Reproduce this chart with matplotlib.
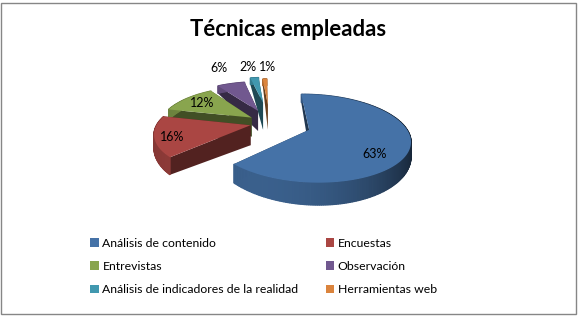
import numpy as np
import matplotlib
matplotlib.use("Agg")
import matplotlib.pyplot as plt
from matplotlib.patches import Polygon, Rectangle
from matplotlib.colors import to_rgb

TITLE = "Técnicas empleadas"
CATEGORIES = ["Análisis de contenido", "Encuestas", "Entrevistas", "Observación",
              "Análisis de indicadores de la realidad", "Herramientas web"]
VALUES = [63, 16, 12, 6, 2, 1]
COLORS = ["#4572A7", "#AA4643", "#89A54E", "#71588F", "#4198AF", "#DB843D"]

# pie style
EXPLODE = [41, 20, 23, 33, 54, 48]
RADII = [95, 93, 92, 92, 85, 85]
APEX_DEPTH = [20, 20, 19, 20, 27, 25]
LABEL_XY = [(375, 154), (172, 137), (202, 103), (219, 68), (248, 67), (268, 67)]
START = -1
CX, CY = 270, 123
PERSP = 0.002
TILT = 0.42
DEPTH = 12

plt.rcParams["font.family"] = ["Lato", "DejaVu Sans"]

fig = plt.figure(figsize=(5.79, 3.17), dpi=100)
ax = fig.add_axes([0, 0, 1, 1])
ax.set_xlim(0, 579)
ax.set_ylim(317, 0)
ax.axis("off")


def project(x, y):
    s = 1 / (1 + PERSP * y)
    return CX + x * s, CY - TILT * y * s, DEPTH * s ** 2.5


def shade(color, f):
    return tuple(c * f for c in to_rgb(color))


ax.add_patch(Rectangle((0.5, 2.5), 575.5, 311.5, fill=False, ec="#868686", lw=1))

total = sum(VALUES)
edges = START + 360 * np.cumsum([0] + VALUES) / total

for i in reversed(range(len(VALUES))):
    a0, a1 = edges[i], edges[i + 1]
    mid = np.radians((a0 + a1) / 2)
    ox, oy = EXPLODE[i] * np.sin(mid), EXPLODE[i] * np.cos(mid)
    th = np.radians(np.linspace(a0, a1, max(int(a1 - a0), 6) + 1))
    px = ox + RADII[i] * np.sin(th)
    py = oy + RADII[i] * np.cos(th)
    u, v, d = project(px, py)
    au, av, _ = project(ox, oy)
    ad = APEX_DEPTH[i]

    # cut faces
    for j in (0, -1):
        quad = [(au, av), (u[j], v[j]), (u[j], v[j] + d[j]), (au, av + ad)]
        ax.add_patch(Polygon(quad, fc=shade(COLORS[i], 0.48), ec="none", zorder=i * -3))
    # outer wall, darker to the right
    for j in range(len(u) - 1):
        sn = np.sin(th[j])
        f = 0.78 - 0.24 * sn - 0.24 * sn ** 2
        quad = [(u[j], v[j]), (u[j + 1], v[j + 1]), (u[j + 1], v[j + 1] + d[j + 1]), (u[j], v[j] + d[j])]
        c = shade(COLORS[i], f)
        ax.add_patch(Polygon(quad, fc=c, ec=c, lw=0.9, zorder=i * -3 + 0.5))
    # top
    ax.add_patch(Polygon(np.column_stack([np.r_[au, u], np.r_[av, v]]),
                         fc=COLORS[i], ec="none", zorder=i * -3 + 1))
    ax.text(*LABEL_XY[i], f"{VALUES[i]}%", ha="center", va="center", fontsize=9, color="black", zorder=5)

ax.text(288, 29, TITLE, ha="center", va="center", fontsize=15.9, fontweight="bold", color="black")

# legend fills by column, so reorder to read across the rows
order = [0, 2, 4, 1, 3, 5]
handles = [Rectangle((0, 0), 1, 1, fc=COLORS[i], ec="none") for i in order]
fig.legend(handles, [CATEGORIES[i] for i in order], ncol=2, loc="upper left", bbox_to_anchor=(0.156, 0.25),
           frameon=False, fontsize=8.85, handlelength=0.69, handleheight=0.69, handletextpad=0.3,
           columnspacing=2.2, labelspacing=1.0, borderpad=0, borderaxespad=0)

fig.savefig("out.png", dpi=100)
